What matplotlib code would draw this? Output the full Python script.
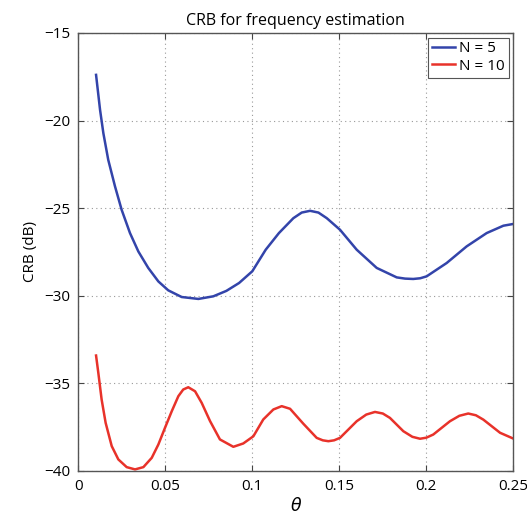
import matplotlib
matplotlib.use("Agg")
import matplotlib.pyplot as plt

plt.rcParams['font.family'] = ['Open Sans', 'DejaVu Sans']

theta_n5 = [0.0102, 0.0125, 0.0144, 0.0172, 0.0211, 0.0249, 0.0297, 0.0345, 0.0402,
            0.046, 0.0517, 0.0594, 0.069, 0.0776, 0.0851, 0.0924, 0.100, 0.1077,
            0.1153, 0.1236, 0.1284, 0.1332, 0.138, 0.1428, 0.1504, 0.160, 0.1715,
            0.183, 0.1878, 0.1925, 0.1965, 0.2002, 0.2117, 0.2232, 0.2347, 0.2443, 0.250]
crb_n5 = [-17.39, -19.39, -20.72, -22.24, -23.76, -25.09, -26.42, -27.47, -28.41,
          -29.18, -29.69, -30.07, -30.18, -30.03, -29.72, -29.27, -28.6, -27.37,
          -26.42, -25.57, -25.25, -25.15, -25.25, -25.57, -26.23, -27.37, -28.41,
          -28.95, -29.02, -29.04, -29.0, -28.89, -28.13, -27.18, -26.42, -26.0, -25.9]

theta_n10 = [0.0102, 0.0115, 0.0134, 0.0157, 0.0192, 0.023, 0.0278, 0.0326, 0.0374,
             0.0422, 0.046, 0.0498, 0.0537, 0.0575, 0.0603, 0.0632, 0.0671, 0.0709,
             0.0757, 0.0814, 0.0891, 0.0948, 0.1006, 0.1063, 0.1121, 0.1169, 0.1217,
             0.1293, 0.137, 0.1405, 0.1437, 0.147, 0.1504, 0.160, 0.1655, 0.1705,
             0.175, 0.1791, 0.1868, 0.192, 0.1964, 0.2, 0.204, 0.2136, 0.219, 0.2241,
             0.2285, 0.2328, 0.2424, 0.250]
crb_n10 = [-33.41, -34.40, -35.92, -37.25, -38.58, -39.34, -39.78, -39.91, -39.78,
           -39.25, -38.49, -37.54, -36.59, -35.73, -35.35, -35.22, -35.45, -36.11,
           -37.15, -38.2, -38.62, -38.43, -38.02, -37.06, -36.49, -36.3, -36.45,
           -37.3, -38.11, -38.25, -38.3, -38.25, -38.11, -37.16, -36.78, -36.63,
           -36.72, -36.97, -37.73, -38.05, -38.16, -38.1, -37.92, -37.16, -36.85, -36.72,
           -36.82, -37.07, -37.82, -38.15]

xticks = [0, 0.05, 0.1, 0.15, 0.2, 0.25]
xticklabels = ['0', '0.05', '0.1', '0.15', '0.2', '0.25']
yticks = [-40, -35, -30, -25, -20, -15]
yticklabels = ['\u221240', '\u221235', '\u221230', '\u221225', '\u221220', '\u221215']

fig = plt.figure(figsize=(5.27, 5.27), dpi=100)
ax = fig.add_axes([0.1486, 0.1063, 0.8254, 0.8311])

ax.plot(theta_n5, crb_n5, color='#3344aa', lw=1.8, label='N = 5',
        solid_joinstyle='round')
ax.plot(theta_n10, crb_n10, color='#e8322a', lw=1.8, label='N = 10',
        solid_joinstyle='round')

ax.set_xlim(0, 0.25)
ax.set_ylim(-40, -15)
ax.set_xticks(xticks)
ax.set_xticklabels(xticklabels)
ax.set_yticks(yticks)
ax.set_yticklabels(yticklabels)
ax.tick_params(direction='in', top=True, right=True, labelsize=11, length=4,
               color='#444444', pad=6)
ax.grid(True, linestyle=(0, (1, 3)), color='#999999', lw=0.8)
for s in ax.spines.values():
    s.set_color('#555555')
    s.set_linewidth(1.0)

ax.set_title('CRB for frequency estimation', fontsize=11.5, pad=6)
ax.set_xlabel(r'$\theta$', fontsize=12.5, labelpad=2)
ax.set_ylabel('CRB (dB)', fontsize=11, labelpad=4)

leg = ax.legend(loc='upper right', fontsize=11, handlelength=1.5, handletextpad=0.3,
                borderaxespad=0.3, fancybox=False, framealpha=1, borderpad=0.25,
                labelspacing=0.15)
leg.get_frame().set_edgecolor('#555555')
leg.get_frame().set_linewidth(0.8)

fig.savefig('out.png', dpi=100)
